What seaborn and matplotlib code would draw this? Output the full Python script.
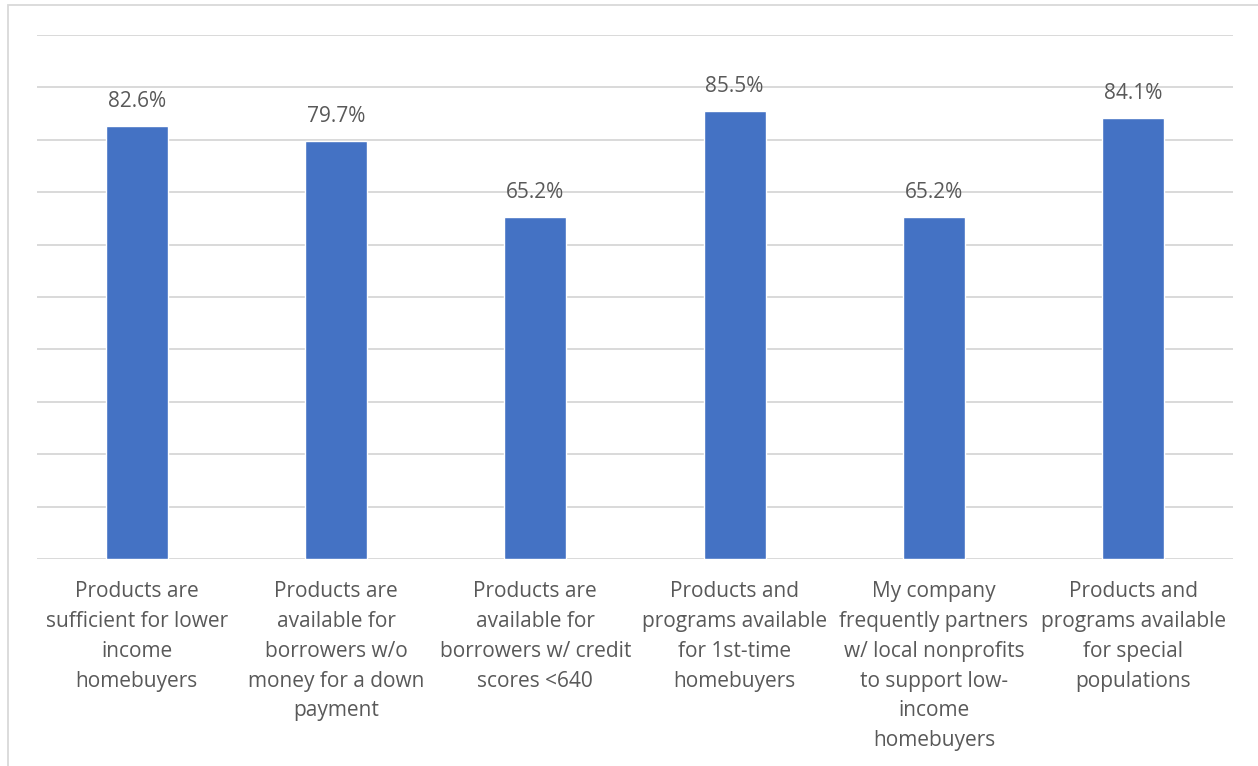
import matplotlib
matplotlib.use("Agg")
import matplotlib.pyplot as plt
import seaborn as sns
import pandas as pd
from matplotlib.patches import Rectangle

categories = [
    "Products are\nsufficient for lower\nincome\nhomebuyers",
    "Products are\navailable for\nborrowers w/o\nmoney for a down\npayment",
    "Products are\navailable for\nborrowers w/ credit\nscores <640",
    "Products and\nprograms available\nfor 1st-time\nhomebuyers",
    "My company\nfrequently partners\nw/ local nonprofits\nto support low-\nincome\nhomebuyers",
    "Products and\nprograms available\nfor special\npopulations",
]
values = [82.6, 79.7, 65.2, 85.5, 65.2, 84.1]

BAR = "#4472C4"
GRID = "#D9D9D9"
TEXT = "#595959"

sns.set_theme(style="white")
plt.rcParams["font.family"] = ["Open Sans", "DejaVu Sans"]

W, H = 1258, 766
fig = plt.figure(figsize=(W / 100, H / 100), dpi=100)
ax = fig.add_axes([37 / W, 1 - 559 / H, (1233 - 37) / W, (559 - 35) / H])

df = pd.DataFrame({"cat": categories, "val": values})
sns.barplot(data=df, x="cat", y="val", color=BAR, width=0.31,
            saturation=1, ax=ax, zorder=3)

ax.set_ylim(0, 100)
ax.set_yticks(range(0, 101, 10))
ax.yaxis.grid(True, color=GRID, linewidth=1.4, zorder=0)
ax.set_axisbelow(True)
ax.tick_params(axis="y", left=False, labelleft=False)
ax.tick_params(axis="x", bottom=False, labelsize=15, labelcolor=TEXT, pad=10)
for lbl in ax.get_xticklabels():
    lbl.set_linespacing(1.55)
for s in ax.spines.values():
    s.set_visible(False)
ax.set_xlabel("")
ax.set_ylabel("")

for i, v in enumerate(values):
    ax.annotate(f"{v:.1f}%", xy=(i, v), xytext=(0, 10), textcoords="offset points",
                ha="center", va="bottom", fontsize=15, color=TEXT)

# outer chart frame
fig.patches.append(Rectangle((8 / W, -0.1), 1.2, 1 - 5 / H + 0.1, transform=fig.transFigure,
                             fill=False, edgecolor=GRID, linewidth=1.3))

fig.savefig("out.png", dpi=100, facecolor="white")
